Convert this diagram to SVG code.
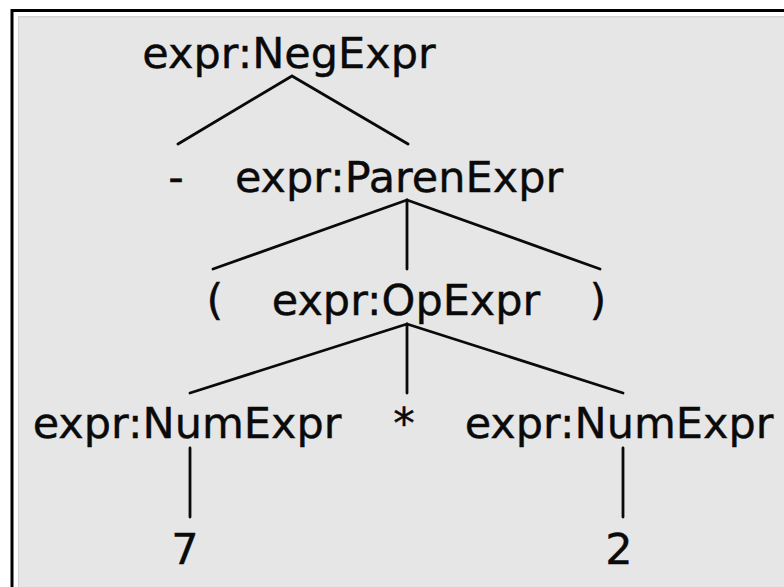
<svg xmlns="http://www.w3.org/2000/svg" width="784" height="587" viewBox="0 0 784 587">
<style>
.t{font-family:"DejaVu Sans",sans-serif;font-size:43px;fill:#0a0a0a;text-anchor:middle;stroke:#0a0a0a;stroke-width:0.4}
.e{stroke:#0a0a0a;stroke-width:2.8;fill:none;stroke-linecap:round}
</style>
<rect width="784" height="587" fill="#fff"/>
<rect x="18" y="16" width="766" height="571" fill="#d4d4d4"/>
<rect x="19" y="17.5" width="765" height="570" fill="#e6e6e6"/>
<path d="M12 587V10.5H784" stroke="#000" stroke-width="3" fill="none"/>
<g id="edges">
<path class="e" d="M292 76L178 144M292 76L408 144"/>
<path class="e" d="M407 200L213 269M407 200V269M407 200L600 269"/>
<path class="e" d="M407 324L190 393M407 324V393M407 324L623 393"/>
<path class="e" d="M190 448V517M623 448V517"/>
</g>
<g id="n-neg"><text class="t" x="289" y="68">expr:NegExpr</text></g>
<g id="n-minus"><text class="t" x="176" y="192">-</text></g>
<g id="n-paren"><text class="t" x="399" y="192">expr:ParenExpr</text></g>
<g id="n-lp"><text class="t" x="215" y="315">(</text></g>
<g id="n-op"><text class="t" x="406" y="315">expr:OpExpr</text></g>
<g id="n-rp"><text class="t" x="598" y="315">)</text></g>
<g id="n-num1"><text class="t" x="187" y="438">expr:NumExpr</text></g>
<g id="n-star"><text class="t" x="404" y="438">*</text></g>
<g id="n-num2"><text class="t" x="619" y="438">expr:NumExpr</text></g>
<g id="n-7"><text class="t" x="185" y="564">7</text></g>
<g id="n-2"><text class="t" x="619" y="564">2</text></g>
</svg>
